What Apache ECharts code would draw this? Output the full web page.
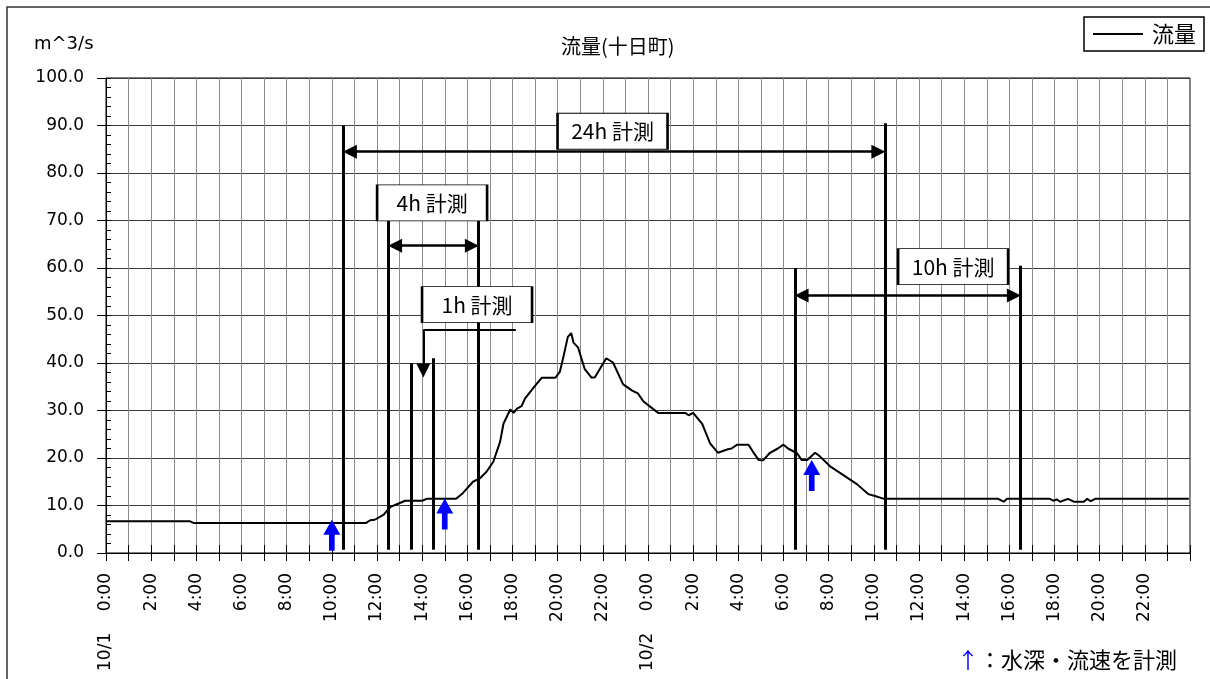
<!DOCTYPE html>
<html>
<head>
<meta charset="utf-8">
<script src="https://cdn.jsdelivr.net/npm/echarts@6/dist/echarts.min.js"></script>
<style>
  html, body { margin: 0; padding: 0; background: #fff; }
  #Charts { width: 1210px; height: 679px; }
</style>
</head>
<body>
<div id="Charts"></div>
<script>
// 流量 (m^3/s) 10/1 0:00 からの経過時間 (h)
const flowHours = [0, 3.7, 3.9, 11.5, 11.7, 11.9, 12.3, 12.6, 12.8, 13.25, 14.0, 14.2, 15.5, 15.8,
  16.25, 16.55, 16.85, 17.15, 17.45, 17.6, 17.9, 18.05, 18.2, 18.4, 18.55, 18.95, 19.3, 19.9,
  20.1, 20.25, 20.45, 20.6, 20.7, 20.9, 21.2, 21.5, 21.65, 22.15, 22.45, 22.9, 23.3, 23.55,
  23.8, 24.15, 24.45, 25.65, 25.8, 26.0, 26.4, 26.75, 27.1, 27.5, 27.7, 27.95, 28.45, 28.65,
  28.9, 29.1, 29.4, 29.75, 30.0, 30.2, 30.6, 30.8, 31.05, 31.4, 31.6, 32.05, 32.65, 33.25,
  33.75, 34.05, 34.45, 39.5, 39.75, 39.9, 41.8, 41.95, 42.1, 42.25, 42.6, 42.85, 43.3, 43.45,
  43.6, 43.8, 47.95]
const flowValues = [6.7, 6.7, 6.3, 6.3, 6.9, 7.0, 8.1, 9.7, 10.1, 11.0, 11.0, 11.4, 11.4, 12.6,
  15.0, 15.7, 17.1, 19.2, 23.4, 27.2, 30.2, 29.5, 30.4, 30.9, 32.5, 34.9, 36.9, 36.9,
  38.2, 41.2, 45.5, 46.3, 44.3, 43.3, 38.7, 36.9, 37.0, 41.0, 40.1, 35.5, 34.2, 33.6,
  31.9, 30.6, 29.5, 29.5, 29.0, 29.5, 27.2, 23.1, 21.1, 21.8, 22.0, 22.8, 22.8, 21.3,
  19.6, 19.5, 21.1, 22.0, 22.8, 22.0, 21.0, 19.6, 19.6, 21.1, 20.4, 18.3, 16.4, 14.5,
  12.4, 12.0, 11.4, 11.4, 10.8, 11.4, 11.4, 11.0, 11.3, 10.8, 11.4, 10.8, 10.8, 11.4,
  10.9, 11.4, 11.4]

// 水深・流速の計測時刻 (h) とその時の流量
const measureHours = [10, 15, 31.25]
const measureValues = [7.0, 11.5, 19.6]

// 計測期間
const spanLabels = ['24h 計測', '4h 計測', '1h 計測', '10h 計測']
const spanStart = [10.5, 12.5, 13.5, 30.5]
const spanEnd = [34.5, 16.5, 14.5, 40.5]

const numFont = 'DejaVu Sans'
const jpFont = 'Noto Sans CJK JP'

// annotation layout (axis units)
const lineTopStart = [90, 70, 40, 60]
const lineTopEnd = [90.5, 70, 41, 60.5]
const arrowLevel = [84.5, 64.7, null, 54.2]
const boxAt = [[22.43, 88.8], [14.44, 73.7], [16.43, 52.3], [37.51, 60.3]]
const lineBottom = 0.7
const headGap = 0.3

let markLines = []
spanStart.forEach((s, i) => {
  let e = spanEnd[i]
  markLines.push([{coord: [s, lineBottom], symbol: 'none'}, {coord: [s, lineTopStart[i]], symbol: 'none'}])
  markLines.push([{coord: [e, lineBottom], symbol: 'none'}, {coord: [e, lineTopEnd[i]], symbol: 'none'}])
  if (arrowLevel[i] != null) {
    markLines.push([
      {coord: [s + headGap, arrowLevel[i]], symbol: 'triangle', lineStyle: {width: 2.5}},
      {coord: [e - headGap, arrowLevel[i]], symbol: 'triangle'}
    ])
  }
})
// 1h: L字の引出し矢印
markLines.push([{coord: [18.15, 47], symbol: 'none', lineStyle: {width: 2}}, {coord: [14.05, 47], symbol: 'none'}])
markLines.push([{coord: [14.05, 47], symbol: 'none', lineStyle: {width: 2}}, {coord: [14.05, 38.4], symbol: 'triangle', symbolSize: 14}])

const boxes = spanLabels.map((name, i) => ({name: name, coord: boxAt[i]}))

const hourLabel = function (value) {
  let h = Math.round(value)
  if (h % 2 !== 0 || h >= 48) return ''
  if (h === 0) return '10/1    0:00'
  if (h === 24) return '10/2    0:00'
  return (h % 24) + ':00'
}

let chart = echarts.init(document.getElementById('Charts'))
let option = {
  animation: false,
  backgroundColor: '#fff',
  title: [
    {
      text: '流量(十日町)',
      left: 556,
      top: 31,
      textStyle: {fontFamily: jpFont, fontSize: 20, fontWeight: 'normal', color: '#000'}
    },
    {
      text: 'm^3/s',
      left: 29,
      top: 30,
      textStyle: {fontFamily: numFont, fontSize: 18, fontWeight: 'normal', color: '#000'}
    },
    {
      text: '{a|↑}{b|：水深・流速を計測}',
      left: 952,
      top: 644,
      textStyle: {
        fontWeight: 'normal',
        rich: {
          a: {fontFamily: jpFont, fontSize: 22, fontWeight: 'normal', color: '#0000ff'},
          b: {fontFamily: jpFont, fontSize: 22, fontWeight: 'normal', color: '#000'}
        }
      }
    }
  ],
  legend: {
    right: 6,
    top: 17,
    data: [{name: '流量', icon: 'rect'}],
    itemWidth: 50,
    itemHeight: 2,
    itemGap: 0,
    padding: [6, 8, 6, 9],
    borderColor: '#000',
    borderWidth: 1.5,
    backgroundColor: '#fff',
    textStyle: {fontFamily: jpFont, fontSize: 22, color: '#000', padding: [0, 0, 0, 4]}
  },
  graphic: [
    {
      type: 'rect',
      shape: {x: 7, y: 7, width: 1220, height: 700},
      style: {fill: 'none', stroke: '#333', lineWidth: 1.5},
      silent: true
    }
  ],
  grid: {
    left: 106,
    top: 78,
    width: 1084,
    height: 475,
    show: true,
    borderColor: '#000',
    borderWidth: 1
  },
  xAxis: [
    {
      type: 'value',
      min: 0,
      max: 48,
      interval: 1,
      axisLine: {show: true, lineStyle: {color: '#000', width: 1}},
      axisTick: {show: true, length: 8, lineStyle: {color: '#000'}},
      axisLabel: {
        formatter: hourLabel,
        rotate: 90,
        margin: 20,
        fontFamily: numFont,
        fontSize: 17,
        color: '#000'
      },
      splitLine: {show: true, lineStyle: {color: '#8c8c8c', width: 1}}
    },
    {
      type: 'value',
      position: 'bottom',
      min: 0,
      max: 48,
      interval: 1,
      axisLine: {show: false},
      axisTick: {show: true, inside: true, length: 8, lineStyle: {color: '#000'}},
      axisLabel: {show: false},
      splitLine: {show: false}
    }
  ],
  yAxis: [
    {
      type: 'value',
      min: 0,
      max: 100,
      interval: 10,
      axisLine: {show: true, lineStyle: {color: '#000', width: 1}},
      axisTick: {show: true, length: 9, lineStyle: {color: '#000'}},
      axisLabel: {
        formatter: (v) => v.toFixed(1),
        margin: 22,
        fontFamily: numFont,
        fontSize: 17,
        color: '#000'
      },
      splitLine: {show: true, lineStyle: {color: '#3c3c3c', width: 1}}
    },
    {
      type: 'value',
      position: 'left',
      min: 0,
      max: 100,
      interval: 2,
      axisLine: {show: false},
      axisTick: {show: true, inside: true, length: 5, lineStyle: {color: '#000'}},
      axisLabel: {show: false},
      splitLine: {show: false}
    }
  ],
  series: [
    {
      name: '流量',
      type: 'line',
      data: flowHours.map((h, i) => [h, flowValues[i]]),
      symbol: 'none',
      color: '#000',
      lineStyle: {color: '#000', width: 2},
      z: 3
    },
    {
      name: 'annotation',
      type: 'line',
      data: [],
      symbol: 'none',
      markLine: {
        silent: true,
        animation: false,
        z: 4,
        symbol: ['none', 'none'],
        symbolSize: 14,
        label: {show: false},
        lineStyle: {color: '#000', width: 3, type: 'solid'},
        data: markLines
      },
      markPoint: {
        silent: true,
        animation: false,
        z: 6,
        symbol: 'rect',
        symbolSize: [110, 36],
        itemStyle: {color: '#fff', borderColor: '#000', borderWidth: 1.5},
        label: {
          show: true,
          position: 'inside',
          formatter: (p) => p.name,
          fontFamily: jpFont,
          fontSize: 21,
          color: '#000'
        },
        data: boxes
      }
    },
    {
      name: 'measure',
      type: 'scatter',
      data: measureHours.map((h, i) => [h, measureValues[i]]),
      symbol: 'path://M9,0 L18,15 L12,15 L12,31 L6,31 L6,15 L0,15 Z',
      symbolSize: [17, 31],
      symbolOffset: [0, '50%'],
      itemStyle: {color: '#0000ff', opacity: 1},
      z: 8
    }
  ]
}
chart.setOption(option)
</script>
</body>
</html>
